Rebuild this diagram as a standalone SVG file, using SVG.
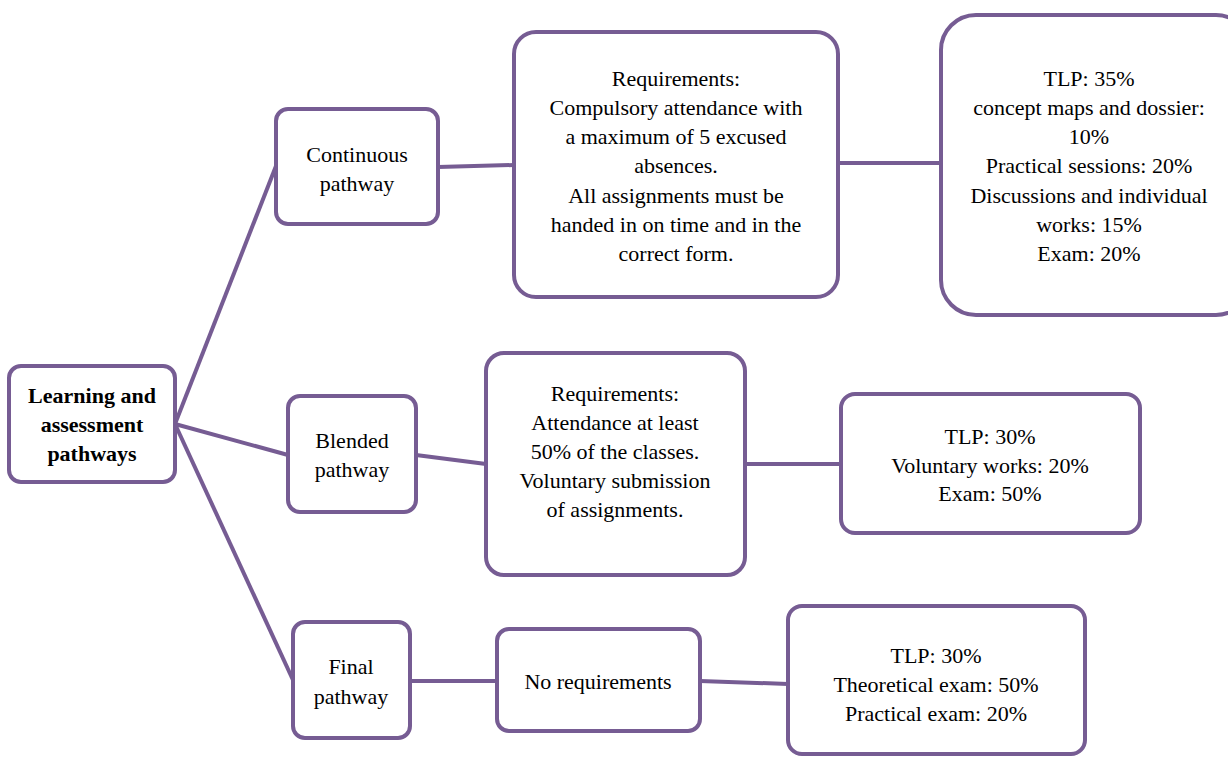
<svg xmlns="http://www.w3.org/2000/svg" width="1228" height="758" viewBox="0 0 1228 758">
<style>
.box{fill:#fff;stroke:#765c93;stroke-width:4}
.c{stroke:#765c93;stroke-width:4;fill:none}
text{font-family:"Times New Roman","Liberation Serif","Noto Serif","DejaVu Serif",Times,serif;font-size:22px;fill:#000;text-anchor:middle}
.b{font-weight:bold}
</style>
<rect width="1228" height="758" fill="#fff"/>
<g id="connectors">
<line class="c" x1="175" y1="424" x2="276" y2="166"/>
<line class="c" x1="175" y1="424" x2="288" y2="455"/>
<line class="c" x1="175" y1="424" x2="293" y2="680"/>
<line class="c" x1="438" y1="167" x2="514" y2="165"/>
<line class="c" x1="838" y1="163" x2="941" y2="163"/>
<line class="c" x1="416" y1="455" x2="486" y2="464"/>
<line class="c" x1="745" y1="464" x2="841" y2="464"/>
<line class="c" x1="410" y1="681" x2="497" y2="681"/>
<line class="c" x1="700" y1="681" x2="788" y2="684"/>
</g>
<g id="root">
<rect class="box" x="9" y="366" width="166" height="116" rx="12"/>
<text class="b" x="92" y="403">Learning and</text>
<text class="b" x="92" y="432">assessment</text>
<text class="b" x="92" y="461">pathways</text>
</g>
<g id="continuous">
<rect class="box" x="276" y="109" width="162" height="115" rx="12"/>
<text x="357" y="162">Continuous</text>
<text x="357" y="191">pathway</text>
</g>
<g id="req1">
<rect class="box" x="514" y="32" width="324" height="265" rx="22"/>
<text x="676" y="86">Requirements:</text>
<text x="676" y="115">Compulsory attendance with</text>
<text x="676" y="144">a maximum of 5 excused</text>
<text x="676" y="173">absences.</text>
<text x="676" y="203">All assignments must be</text>
<text x="676" y="232">handed in on time and in the</text>
<text x="676" y="261">correct form.</text>
</g>
<g id="tlp1">
<rect class="box" x="941" y="15" width="310" height="300" rx="35"/>
<text x="1089" y="86">TLP: 35%</text>
<text x="1089" y="115">concept maps and dossier:</text>
<text x="1089" y="144">10%</text>
<text x="1089" y="173">Practical sessions: 20%</text>
<text x="1089" y="203">Discussions and individual</text>
<text x="1089" y="232">works: 15%</text>
<text x="1089" y="261">Exam: 20%</text>
</g>
<g id="blended">
<rect class="box" x="288" y="396" width="128" height="116" rx="12"/>
<text x="352" y="448">Blended</text>
<text x="352" y="477">pathway</text>
</g>
<g id="req2">
<rect class="box" x="486" y="353" width="259" height="222" rx="18"/>
<text x="615" y="401">Requirements:</text>
<text x="615" y="430">Attendance at least</text>
<text x="615" y="459">50% of the classes.</text>
<text x="615" y="488">Voluntary submission</text>
<text x="615" y="517">of assignments.</text>
</g>
<g id="tlp2">
<rect class="box" x="841" y="394" width="299" height="139" rx="14"/>
<text x="990" y="444">TLP: 30%</text>
<text x="990" y="473">Voluntary works: 20%</text>
<text x="990" y="501">Exam: 50%</text>
</g>
<g id="final">
<rect class="box" x="293" y="622" width="117" height="116" rx="12"/>
<text x="351" y="674">Final</text>
<text x="351" y="704">pathway</text>
</g>
<g id="noreq">
<rect class="box" x="497" y="629" width="203" height="102" rx="12"/>
<text x="598" y="689">No requirements</text>
</g>
<g id="tlp3">
<rect class="box" x="788" y="606" width="297" height="148" rx="14"/>
<text x="936" y="663">TLP: 30%</text>
<text x="936" y="692">Theoretical exam: 50%</text>
<text x="936" y="721">Practical exam: 20%</text>
</g>
</svg>
